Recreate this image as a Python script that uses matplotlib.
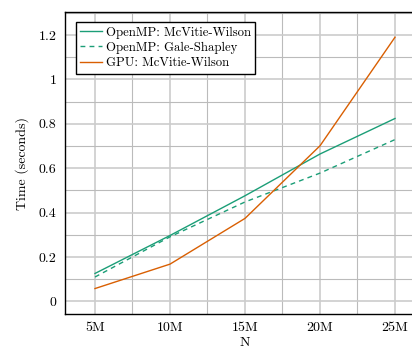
import matplotlib
matplotlib.use("Agg")
import matplotlib.pyplot as plt
from matplotlib.ticker import MultipleLocator, FixedLocator

plt.rcParams['font.family'] = ['cmr10', 'DejaVu Serif']
plt.rcParams['mathtext.fontset'] = 'cm'
plt.rcParams['axes.formatter.use_mathtext'] = True

n_millions = [5, 10, 15, 20, 25]
n_labels = ["5M", "10M", "15M", "20M", "25M"]
omp_mw = [0.126, 0.297, 0.476, 0.664, 0.824]
omp_gs = [0.110, 0.291, 0.448, 0.578, 0.729]
gpu_mw = [0.058, 0.168, 0.374, 0.701, 1.190]
y_ticks = [0, 0.2, 0.4, 0.6, 0.8, 1.0, 1.2]
y_labels = ["0", "0.2", "0.4", "0.6", "0.8", "1", "1.2"]

green = "#1b9e77"
orange = "#d95f02"

fig = plt.figure(figsize=(4.12, 3.48), dpi=100)
ax = fig.add_axes([65 / 412, 34 / 348, 360 / 412, 302 / 348])

ax.plot(n_millions, omp_mw, color=green, lw=1.0, label="OpenMP: McVitie-Wilson")
ax.plot(n_millions, omp_gs, color=green, lw=1.0, ls=(0, (3.5, 3)), label="OpenMP: Gale-Shapley")
ax.plot(n_millions, gpu_mw, color=orange, lw=1.0, label="GPU: McVitie-Wilson")

ax.set_xlim(3, 27)
ax.set_ylim(-0.0566, 1.3036)
ax.xaxis.set_major_locator(FixedLocator(n_millions))
ax.set_xticklabels(n_labels)
ax.xaxis.set_minor_locator(MultipleLocator(2.5))
ax.set_yticks(y_ticks)
ax.set_yticklabels(y_labels)
ax.yaxis.set_minor_locator(MultipleLocator(0.1))

ax.grid(True, which='major', color='#cccccc', lw=1.2)
ax.grid(True, which='minor', color='#bbbbbb', lw=0.8)
ax.set_axisbelow(True)
ax.tick_params(which='both', direction='in', length=0, labelsize=10, pad=6)
for s in ax.spines.values():
    s.set_linewidth(1.0)
    s.set_color('black')

ax.set_xlabel("N", fontsize=10, labelpad=2)
ax.set_ylabel("Time (seconds)", fontsize=10, labelpad=7)

leg = ax.legend(loc='upper left', fontsize=9.2, frameon=True, fancybox=False,
                edgecolor='black', framealpha=1, handlelength=1.7,
                handletextpad=0.3, borderpad=0.35, labelspacing=0.25,
                borderaxespad=0, bbox_to_anchor=(0.03, 0.967))
leg.get_frame().set_linewidth(1.0)

fig.savefig("out.png", dpi=100)
